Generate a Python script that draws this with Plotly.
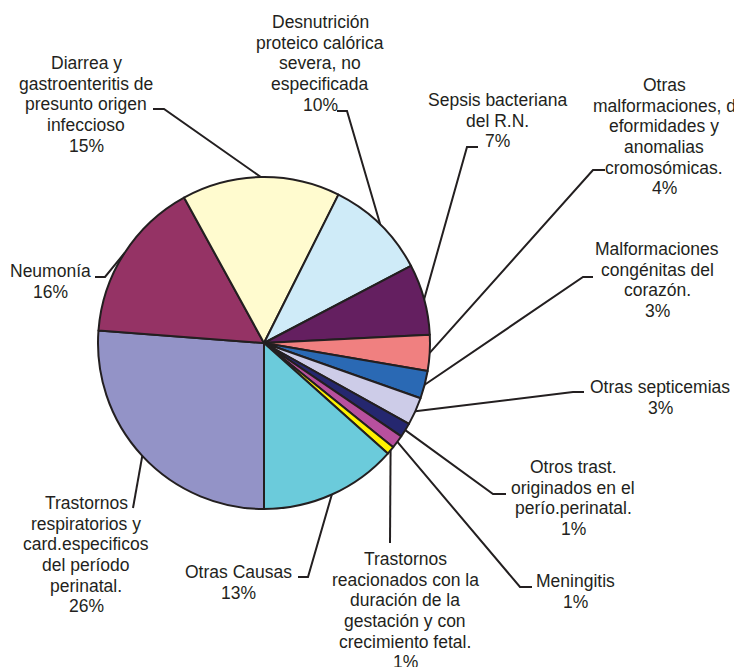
import math
import plotly.graph_objects as go

# ---------------- data ----------------
causes = [
    "Trastornos respiratorios y card.especificos del período perinatal.",
    "Neumonía",
    "Diarrea y gastroenteritis de presunto origen infeccioso",
    "Desnutrición proteico calórica severa, no especificada",
    "Sepsis bacteriana del R.N.",
    "Otras malformaciones, deformidades y anomalias cromosómicas.",
    "Malformaciones congénitas del corazón.",
    "Otras septicemias",
    "Otros trast. originados en el perío.perinatal.",
    "Meningitis",
    "Trastornos reacionados con la duración de la gestación y con crecimiento fetal.",
    "Otras Causas",
]
values = [26.2, 15.8, 15.4, 9.9, 6.9, 3.5, 2.7, 2.7, 1.4, 1.3, 0.8, 13.4]
label_lines = [
    ["Trastornos", "respiratorios y", "card.especificos", "del período", "perinatal."],
    ["Neumonía"],
    ["Diarrea y", "gastroenteritis de", "presunto origen", "infeccioso"],
    ["Desnutrición", "proteico calórica", "severa, no", "especificada"],
    ["Sepsis bacteriana", "del R.N."],
    ["Otras", "malformaciones, d", "eformidades y", "anomalias", "cromosómicas."],
    ["Malformaciones", "congénitas del", "corazón."],
    ["Otras septicemias"],
    ["Otros trast.", "originados en el", "perío.perinatal."],
    ["Meningitis"],
    ["Trastornos", "reacionados con la", "duración de la", "gestación y con", "crecimiento fetal."],
    ["Otras Causas"],
]
colors = [
    "#9393C7", "#953365", "#FFFBCF", "#CFEBF8", "#641F60", "#F08080",
    "#2A69B4", "#CDCCE8", "#25276F", "#B8509E", "#FFF200", "#6BCBDB",
]

# ---------------- layout (screen pixels) ----------------
SW, SH = 742, 667          # window size
OFF = 8                    # page body margin
W, H = SW - OFF, SH - OFF  # figure size so it fits the window
CX, CY, R = 264, 343, 166
EDGE = "#231F20"
FONT = dict(family="Liberation Sans, Arial, sans-serif", size=17.5, color=EDGE)
PITCH = 20.7

# label block: centre x, baseline of first line
label_pos = [
    (86, 509), (50, 277), (86, 69), (320, 28), (497, 106), (664, 91),
    (657, 255), (660, 393), (573, 473), (575, 587), (405, 565), (238.5, 578),
]
# leader line elbow points (from the pie edge outward)
leaders = [
    [(133, 508)],
    [(105, 277), (95, 277)],
    [(164, 109), (153, 109)],
    [(347, 111), (337, 111)],
    [(467, 147), (478, 147)],
    [(593, 170), (605, 170)],
    [(583, 277), (593, 277)],
    [(573, 392), (584, 392)],
    [(493, 494), (506, 494)],
    [(520, 587), (532, 587)],
    [(390, 543)],
    [(308, 577), (298, 577)],
]


def px(x):
    return (x - OFF) / W


def py(y):
    return 1 - (y - OFF) / H


fig = go.Figure()
fig.add_trace(go.Pie(
    labels=causes, values=values, sort=False, direction="clockwise", rotation=180,
    marker=dict(colors=colors, line=dict(color=EDGE, width=2)),
    textinfo="none", hoverinfo="label+percent", showlegend=False,
    domain=dict(x=[px(CX - R), px(CX + R)], y=[py(CY + R), py(CY - R)]),
))

total = sum(values)
cum = 0.0
shapes = []
annotations = []
for i, v in enumerate(values):
    mid = 180 + (cum + v / 2) / total * 360
    cum += v
    a = math.radians(mid)
    sx, sy = CX + R * math.sin(a), CY - R * math.cos(a)
    pts = [(sx, sy)] + leaders[i]
    path = "M " + " L ".join(f"{px(x):.5f},{py(y):.5f}" for x, y in pts)
    shapes.append(dict(type="path", path=path, xref="paper", yref="paper",
                       line=dict(color=EDGE, width=2), layer="above"))
    lines = label_lines[i] + [f"{round(v)}%"]
    cx, b1 = label_pos[i]
    for k, t in enumerate(lines):
        b = b1 + k * PITCH
        annotations.append(dict(
            text=t, x=px(cx), y=py(b - 6.1), xref="paper", yref="paper",
            xanchor="center", yanchor="middle", showarrow=False, font=FONT,
        ))

fig.update_layout(
    width=W, height=H, margin=dict(l=0, r=0, t=0, b=0),
    paper_bgcolor="white", plot_bgcolor="white",
    shapes=shapes, annotations=annotations,
)

fig.write_html("out.html")
